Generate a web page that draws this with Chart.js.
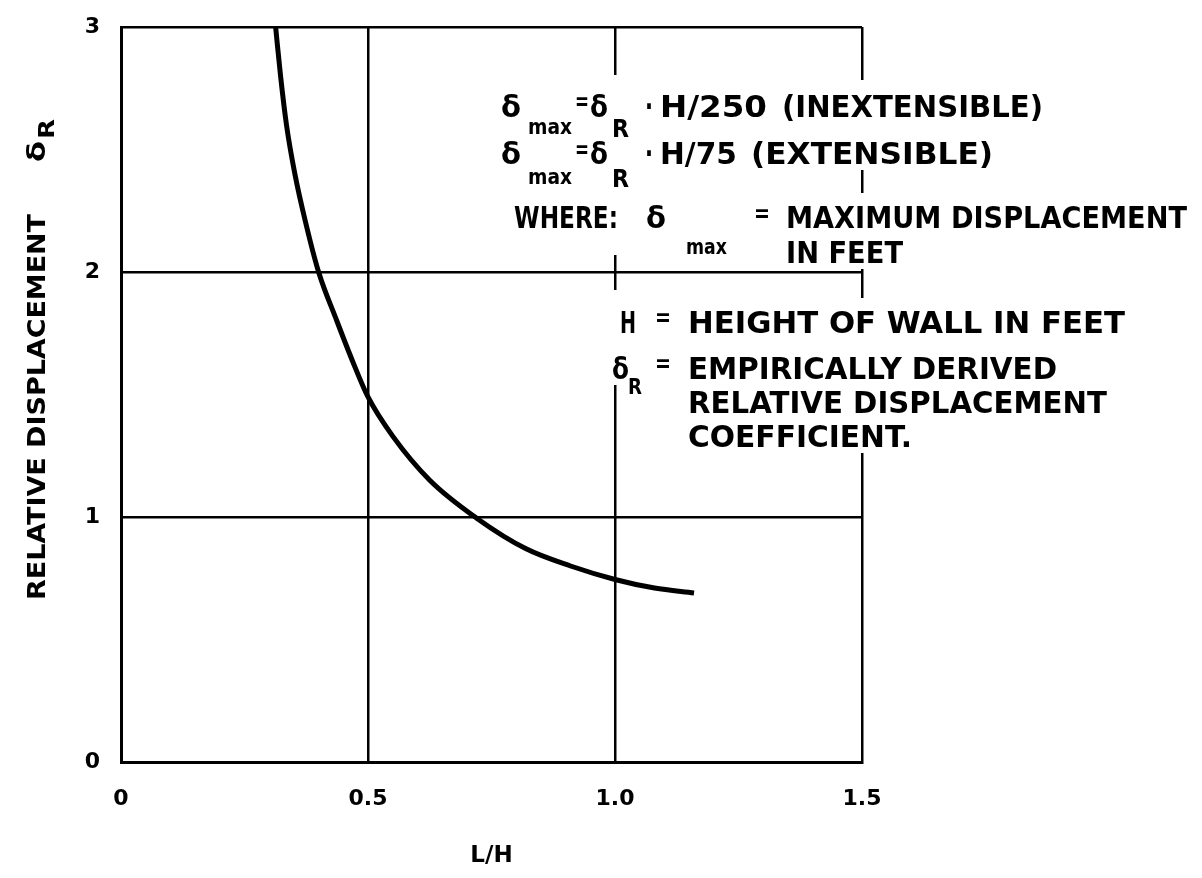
<!DOCTYPE html>
<html>
<head>
<meta charset="utf-8">
<script src="https://cdn.jsdelivr.net/npm/chart.js@4.4.0/dist/chart.umd.min.js"></script>
<style>
  body { margin: 0; background: #fff; }
  canvas { display: block; }
</style>
</head>
<body>
<canvas id="myChart" width="1202" height="878"></canvas>
<script>
//  chart data
let lh_values = [0.313, 0.323, 0.335, 0.352, 0.374, 0.40, 0.437, 0.468, 0.50, 0.55, 0.625, 0.72, 0.82, 0.91, 1.0, 1.08, 1.16];
let dr_values = [3.0, 2.8, 2.6, 2.4, 2.2, 2.0, 1.8, 1.64, 1.49, 1.33, 1.15, 0.995, 0.87, 0.80, 0.745, 0.71, 0.69];
let x_tick_values = [0, 0.5, 1.0, 1.5];
let x_tick_labels = ['0', '0.5', '1.0', '1.5'];
let y_tick_values = [0, 1, 2, 3];
let y_tick_labels = ['0', '1', '2', '3'];
//  chart data

const font_family = '"DejaVu Sans", "Liberation Sans", Arial, sans-serif';

// [text, left x, baseline y, width, font size]
const notes = [
  ['δ', 501, 117, 20, 30],
  ['max', 528, 134, 44, 21],
  ['=', 575, 110, 14, 24],
  ['δ', 590, 117, 18, 30],
  ['R', 612, 137, 17, 24],
  ['·', 645, 117, 8, 30],
  ['H/250', 660, 117, 107, 30],
  ['(INEXTENSIBLE)', 782, 117, 261, 30],

  ['δ', 501, 164, 20, 30],
  ['max', 528, 184, 44, 21],
  ['=', 575, 158, 14, 24],
  ['δ', 590, 164, 18, 30],
  ['R', 612, 187, 17, 24],
  ['·', 645, 164, 8, 30],
  ['H/75', 660, 164, 77, 30],
  ['(EXTENSIBLE)', 751, 164, 242, 30],

  ['WHERE:', 514, 228, 104, 30],
  ['δ', 646, 228, 20, 30],
  ['max', 686, 254, 41, 21],
  ['=', 754, 222, 16, 24],
  ['MAXIMUM DISPLACEMENT', 786, 228, 401, 30],
  ['IN FEET', 786, 263, 117, 30],

  ['H', 620, 333, 16, 30],
  ['=', 655, 326, 16, 24],
  ['HEIGHT OF WALL IN FEET', 688, 333, 437, 30],

  ['δ', 612, 379, 17, 30],
  ['R', 628, 394, 14, 22],
  ['=', 655, 372, 16, 24],
  ['EMPIRICALLY DERIVED', 688, 379, 369, 30],
  ['RELATIVE DISPLACEMENT', 688, 413, 419, 30],
  ['COEFFICIENT.', 688, 447, 224, 30]
];

// extra white gaps where the grid stops short of the text: [x, y, w, h]
const gaps = [
  [605, 75, 20, 180],
  [605, 290, 20, 95],
  [852, 80, 20, 90],
  [852, 193, 20, 65],
  [852, 298, 20, 142]
];

function put_text(ctx, txt, x, y, w, size) {
  ctx.font = 'bold ' + size + 'px ' + font_family;
  let m = ctx.measureText(txt).width;
  ctx.save();
  ctx.translate(x, y);
  ctx.scale(w / m, 1);
  ctx.fillText(txt, 0, 0);
  ctx.restore();
}

const white_bg = {
  id: 'white_bg',
  beforeDraw(chart) {
    const c = chart.ctx;
    c.save();
    c.fillStyle = '#fff';
    c.fillRect(0, 0, chart.width, chart.height);
    c.restore();
  }
};

const notes_plugin = {
  id: 'notes_plugin',
  afterDraw(chart) {
    const c = chart.ctx;
    c.save();
    // blank the grid behind every piece of text
    c.fillStyle = '#fff';
    notes.forEach(n => {
      let cap = n[4] * 0.73;
      c.fillRect(n[1] - 4, n[2] - cap - 7, n[3] + 8, cap + 13);
    });
    gaps.forEach(g => c.fillRect(g[0], g[1], g[2], g[3]));
    c.fillStyle = '#000';
    c.textBaseline = 'alphabetic';
    c.textAlign = 'left';
    notes.forEach(n => put_text(c, n[0], n[1], n[2], n[3], n[4]));

    // y axis title, rotated
    c.translate(45, 600);
    c.rotate(-Math.PI / 2);
    put_text(c, 'RELATIVE DISPLACEMENT', 0, 0, 386, 25);
    put_text(c, 'δ', 438, 0, 21, 25);
    put_text(c, 'R', 461, 9, 20, 22);
    c.restore();
  }
};

const ctx = document.getElementById('myChart').getContext('2d');
const myChart = new Chart(ctx, {
  type: 'scatter',
  data: {
    datasets: [{
      data: lh_values.map((v, i) => ({ x: v, y: dr_values[i] })),
      showLine: true,
      borderColor: '#000',
      borderWidth: 5,
      pointRadius: 0,
      cubicInterpolationMode: 'monotone',
      fill: false
    }]
  },
  options: {
    responsive: false,
    animation: false,
    devicePixelRatio: 1,
    layout: { padding: { top: 27, right: 340, left: 0, bottom: 0 } },
    plugins: {
      legend: { display: false },
      tooltip: { enabled: false }
    },
    scales: {
      x: {
        type: 'linear',
        min: 0,
        max: 1.5,
        afterBuildTicks: s => { s.ticks = x_tick_values.map(v => ({ value: v })); },
        afterFit: s => { s.height = 116; s.paddingLeft = 0; s.paddingRight = 0; },
        grid: { color: '#000', lineWidth: 2.5, drawTicks: false },
        border: { display: true, color: '#000', width: 3 },
        ticks: {
          padding: 24,
          color: '#000',
          font: { family: font_family, size: 22, weight: 'bold' },
          callback: (v, i) => x_tick_labels[i]
        },
        title: {
          display: true,
          text: 'L/H',
          color: '#000',
          font: { family: font_family, size: 23, weight: 'bold' },
          padding: { top: 8, bottom: 8 }
        }
      },
      y: {
        type: 'linear',
        min: 0,
        max: 3,
        afterBuildTicks: s => { s.ticks = y_tick_values.map(v => ({ value: v })); },
        afterFit: s => { s.width = 121; s.paddingTop = 0; s.paddingBottom = 0; },
        grid: { color: '#000', lineWidth: 2.5, drawTicks: false },
        border: { display: true, color: '#000', width: 3 },
        ticks: {
          padding: 21,
          color: '#000',
          font: { family: font_family, size: 22, weight: 'bold' },
          callback: (v, i) => y_tick_labels[i]
        }
      }
    }
  },
  plugins: [white_bg, notes_plugin]
});
</script>
</body>
</html>
